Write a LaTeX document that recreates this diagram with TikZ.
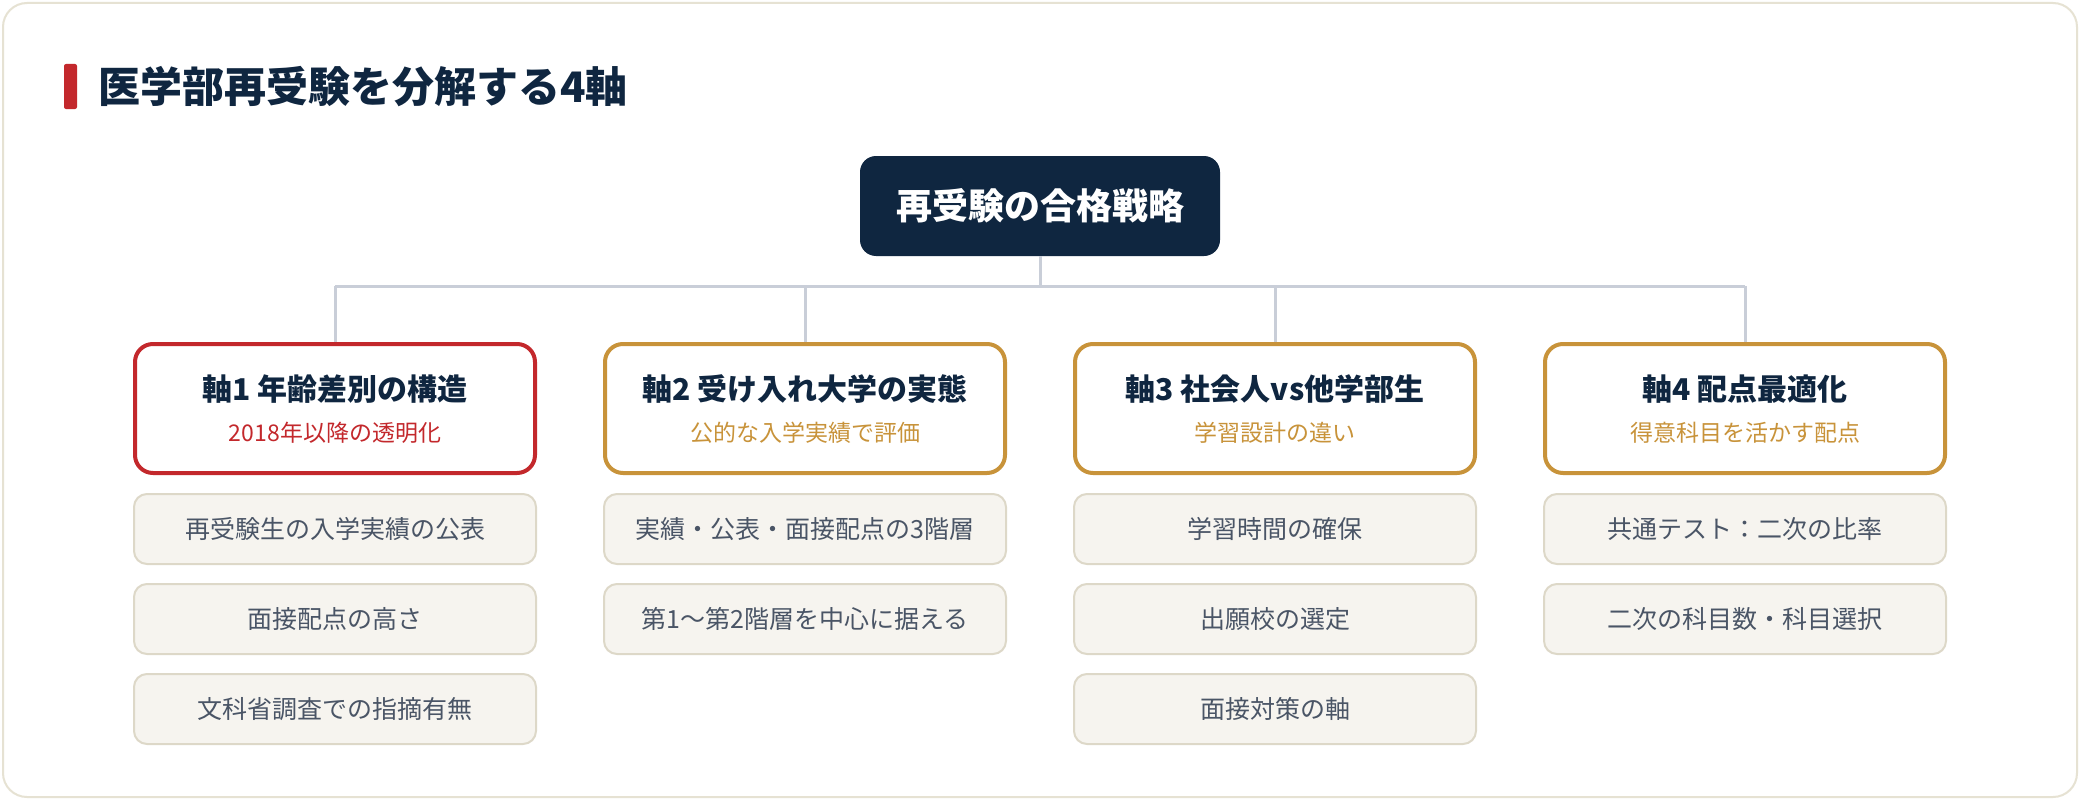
\documentclass[tikz,border=0pt]{standalone}
\usepackage{fontspec}
\setmainfont{Noto Sans CJK JP}
\definecolor{navy}{HTML}{0F2640}
\definecolor{redc}{HTML}{C3282C}
\definecolor{goldc}{HTML}{C8933A}
\definecolor{itemfill}{HTML}{F6F4EF}
\definecolor{itemdraw}{HTML}{DDD8C8}
\definecolor{itemtext}{HTML}{4A5566}
\definecolor{conncol}{HTML}{C9CED8}
\definecolor{cardline}{HTML}{E6E2D3}
\tikzset{
  conn/.style={draw=conncol, line width=3pt},
  rootbox/.style={fill=navy, rounded corners=16pt, minimum width=360pt, minimum height=100pt, inner sep=0pt, text=white, font=\fontsize{36}{42}\selectfont\bfseries},
  axisbox/.style={draw=#1, line width=4pt, fill=white, rounded corners=18pt, minimum width=400pt, minimum height=129pt, inner sep=0pt},
  axtitle/.style={inner sep=0pt, text=navy, font=\fontsize{30}{36}\selectfont\bfseries},
  axsub/.style={inner sep=0pt, text=#1, font=\fontsize{23}{28}\selectfont},
  itembox/.style={draw=itemdraw, line width=2pt, fill=itemfill, rounded corners=13pt, minimum width=402pt, minimum height=70pt, inner sep=0pt, text=itemtext, font=\fontsize{25}{30}\selectfont},
}
\begin{document}
\begin{tikzpicture}[x=1pt,y=-1pt]
\useasboundingbox (0,0) rectangle (2080,800);
\fill[white] (0,0) rectangle (2080,800);
\draw[cardline, line width=2pt, fill=white, rounded corners=24pt] (3,3) rectangle (2077,797);
% title
\fill[redc, rounded corners=2pt] (64,64) rectangle (77,109);
\node[anchor=west, inner sep=0pt, text=navy, font=\fontsize{42}{48}\selectfont\bfseries] (title) at (98,87) {医学部再受験を分解する4軸};
% root
\node[rootbox] (root) at (1040,206) {再受験の合格戦略};
% connectors
\coordinate (bus) at (1040,286);
\node[axisbox=redc] (a1) at (335,408.5) {};
\node[axisbox=goldc] (a2) at (805,408.5) {};
\node[axisbox=goldc] (a3) at (1275,408.5) {};
\node[axisbox=goldc] (a4) at (1745,408.5) {};
\draw[conn] (root.south) -- (root.south |- bus);
\draw[conn] (a1.north |- bus) -- (a4.north |- bus);
\foreach \n in {a1,a2,a3,a4} { \draw[conn] (\n.north |- bus) -- (\n.north); }
% axis texts
\node[axtitle] (a1t) at ([yshift=19.5pt]a1.center) {軸1 年齢差別の構造};
\node[axsub=redc] (a1s) at ([yshift=-24.5pt]a1.center) {2018年以降の透明化};
\node[axtitle] (a2t) at ([yshift=19.5pt]a2.center) {軸2 受け入れ大学の実態};
\node[axsub=goldc] (a2s) at ([yshift=-24.5pt]a2.center) {公的な入学実績で評価};
\node[axtitle] (a3t) at ([yshift=19.5pt]a3.center) {軸3 社会人vs他学部生};
\node[axsub=goldc] (a3s) at ([yshift=-24.5pt]a3.center) {学習設計の違い};
\node[axtitle] (a4t) at ([yshift=19.5pt]a4.center) {軸4 配点最適化};
\node[axsub=goldc] (a4s) at ([yshift=-24.5pt]a4.center) {得意科目を活かす配点};
% items
\node[itembox] (i11) at (335,529) {再受験生の入学実績の公表};
\node[itembox] (i12) at (335,619) {面接配点の高さ};
\node[itembox] (i13) at (335,709) {文科省調査での指摘有無};
\node[itembox] (i21) at (805,529) {実績・公表・面接配点の3階層};
\node[itembox] (i22) at (805,619) {第1〜第2階層を中心に据える};
\node[itembox] (i31) at (1275,529) {学習時間の確保};
\node[itembox] (i32) at (1275,619) {出願校の選定};
\node[itembox] (i33) at (1275,709) {面接対策の軸};
\node[itembox] (i41) at (1745,529) {共通テスト：二次の比率};
\node[itembox] (i42) at (1745,619) {二次の科目数・科目選択};
\end{tikzpicture}
\end{document}
